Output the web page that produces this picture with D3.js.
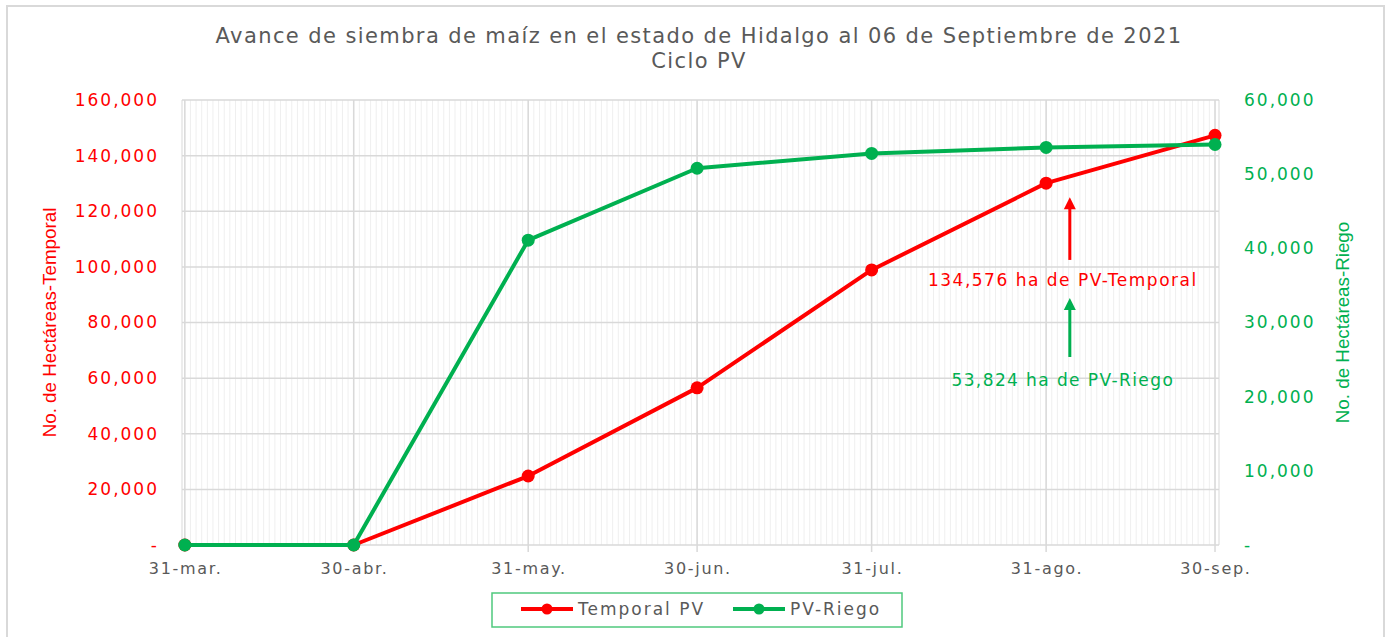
<!DOCTYPE html>
<html lang="es">

<head>
    <meta charset="UTF-8">
    <title>Avance de siembra de maíz</title>
    <script src="https://cdn.jsdelivr.net/npm/d3@7"></script>
    <style>
        body {
            margin: 0;
            background: #fff;
        }

        text {
            font-family: "DejaVu Sans", sans-serif;
        }

        .axis-title {
            font-family: "Liberation Sans Narrow", "Liberation Sans", sans-serif;
            font-size: 18.8px;
        }
    </style>
</head>

<body>
    <svg width="1386" height="637"></svg>

    <script>
        // datos
        const fechas = ["2021-03-31", "2021-04-30", "2021-05-31", "2021-06-30", "2021-07-31", "2021-08-31", "2021-09-30"];
        const etiquetas = ["31-mar.", "30-abr.", "31-may.", "30-jun.", "31-jul.", "31-ago.", "30-sep."];
        const temporal = [0, 0, 24800, 56500, 98900, 130100, 147300];
        const riego = [0, 0, 41100, 50800, 52800, 53600, 54000];
        const ticksTemporal = [0, 20000, 40000, 60000, 80000, 100000, 120000, 140000, 160000];
        const ticksRiego = [0, 10000, 20000, 30000, 40000, 50000, 60000];

        const rojo = "#ff0000";
        const verde = "#00b050";
        const gris = "#595959";

        const width = 1386;
        const height = 637;
        const margin = { top: 100, right: 167, bottom: 92, left: 182 };

        const svg = d3.select("svg");

        // marco exterior
        svg.append("rect")
            .attr("x", 7).attr("y", 6)
            .attr("width", 1377).attr("height", 640)
            .attr("fill", "none")
            .attr("stroke", "#d9d9d9")
            .attr("stroke-width", 2);

        const parse = d3.timeParse("%Y-%m-%d");
        const data = fechas.map((f, i) => ({ fecha: parse(f), etiqueta: etiquetas[i], t: temporal[i], r: riego[i] }));

        const x = d3.scaleTime()
            .domain([new Date(2021, 2, 30, 12), new Date(2021, 8, 30, 17)])
            .range([margin.left, width - margin.right]);

        const yT = d3.scaleLinear()
            .domain([0, 160000])
            .range([height - margin.bottom, margin.top]);

        const yR = d3.scaleLinear()
            .domain([0, 60000])
            .range([height - margin.bottom, margin.top]);

        const fmt = d => d === 0 ? "-" : d3.format(",")(d);

        // rejilla diaria
        const dias = d3.timeDay.range(x.domain()[0], x.domain()[1]);
        svg.append("g")
            .selectAll("line")
            .data(dias)
            .join("line")
            .attr("x1", d => x(d)).attr("x2", d => x(d))
            .attr("y1", yT(160000)).attr("y2", yT(0))
            .attr("stroke", "#efefef")
            .attr("stroke-width", 1);

        // bordes del área
        svg.append("line")
            .attr("x1", x.range()[0]).attr("x2", x.range()[0])
            .attr("y1", yT(160000)).attr("y2", yT(0))
            .attr("stroke", "#d9d9d9");
        svg.append("line")
            .attr("x1", x.range()[1]).attr("x2", x.range()[1])
            .attr("y1", yT(160000)).attr("y2", yT(0))
            .attr("stroke", "#d9d9d9");

        // rejilla horizontal
        svg.append("g")
            .selectAll("line")
            .data(ticksTemporal)
            .join("line")
            .attr("x1", x.range()[0]).attr("x2", x.range()[1])
            .attr("y1", d => yT(d)).attr("y2", d => yT(d))
            .attr("stroke", "#d9d9d9")
            .attr("stroke-width", 1.5);

        // rejilla mensual
        svg.append("g")
            .selectAll("line")
            .data(data)
            .join("line")
            .attr("x1", d => x(d.fecha)).attr("x2", d => x(d.fecha))
            .attr("y1", yT(160000)).attr("y2", yT(0) + 7)
            .attr("stroke", "#d9d9d9")
            .attr("stroke-width", 1.5);

        // eje x
        svg.append("g")
            .selectAll("text")
            .data(data)
            .join("text")
            .attr("x", d => x(d.fecha))
            .attr("dx", 0.85)
            .attr("y", yT(0) + 29)
            .attr("text-anchor", "middle")
            .attr("fill", gris)
            .attr("font-size", 16)
            .attr("letter-spacing", 1.7)
            .text(d => d.etiqueta);

        // eje izquierdo
        const ejeIzq = svg.append("g")
            .attr("transform", `translate(${margin.left - 20},0)`)
            .call(d3.axisLeft(yT).tickValues(ticksTemporal).tickFormat(fmt).tickSize(0));
        ejeIzq.select(".domain").remove();
        ejeIzq.selectAll("text")
            .attr("fill", rojo)
            .attr("font-size", 17)
            .attr("letter-spacing", 2)
            .attr("font-family", "DejaVu Sans, sans-serif");

        // eje derecho
        const ejeDer = svg.append("g")
            .attr("transform", `translate(${width - margin.right + 22},0)`)
            .call(d3.axisRight(yR).tickValues(ticksRiego).tickFormat(fmt).tickSize(0));
        ejeDer.select(".domain").remove();
        ejeDer.selectAll("text")
            .attr("fill", verde)
            .attr("font-size", 17)
            .attr("letter-spacing", 2)
            .attr("font-family", "DejaVu Sans, sans-serif");

        // títulos de ejes
        svg.append("text")
            .attr("class", "axis-title")
            .attr("transform", `translate(56,${(yT(0) + yT(160000)) / 2}) rotate(-90)`)
            .attr("text-anchor", "middle")
            .attr("fill", rojo)
            .text("No. de Hectáreas-Temporal");

        svg.append("text")
            .attr("class", "axis-title")
            .attr("transform", `translate(1349,${(yR(0) + yR(60000)) / 2}) rotate(-90)`)
            .attr("text-anchor", "middle")
            .attr("fill", verde)
            .text("No. de Hectáreas-Riego");

        // título
        const titulo = svg.append("text")
            .attr("text-anchor", "middle")
            .attr("fill", gris)
            .attr("font-size", 21)
            .attr("letter-spacing", 1.4);
        titulo.append("tspan").attr("x", 699).attr("y", 43)
            .text("Avance de siembra de maíz en el estado de Hidalgo al 06 de Septiembre de 2021");
        titulo.append("tspan").attr("x", 699).attr("y", 68)
            .text("Ciclo PV");

        // series
        const series = [
            { key: "t", y: yT, color: rojo },
            { key: "r", y: yR, color: verde }
        ];

        series.forEach(s => {
            const filas = s.key === "t" ? data.slice(1) : data;
            const linea = d3.line()
                .x(d => x(d.fecha))
                .y(d => s.y(d[s.key]));
            svg.append("path")
                .datum(filas)
                .attr("fill", "none")
                .attr("stroke", s.color)
                .attr("stroke-width", 4)
                .attr("stroke-linejoin", "round")
                .attr("d", linea);
            svg.append("g")
                .selectAll("circle")
                .data(data)
                .join("circle")
                .attr("cx", d => x(d.fecha))
                .attr("cy", d => s.y(d[s.key]))
                .attr("r", 6.5)
                .attr("fill", s.color);
        });

        // anotaciones
        const xAnot = x(new Date(2021, 8, 4, 5));
        const flecha = (x0, y0, y1, color) => {
            svg.append("line")
                .attr("x1", x0).attr("x2", x0)
                .attr("y1", y0).attr("y2", y1 + 10)
                .attr("stroke", color)
                .attr("stroke-width", 3);
            svg.append("path")
                .attr("d", `M${x0 - 6},${y1 + 12} L${x0},${y1} L${x0 + 6},${y1 + 12} Z`)
                .attr("fill", color);
        };
        flecha(xAnot, yT(102500), yT(125000), rojo);
        flecha(xAnot, yR(25350), yR(33300), verde);

        svg.append("text")
            .attr("x", xAnot - 7)
            .attr("y", yT(95300) + 6)
            .attr("text-anchor", "middle")
            .attr("fill", rojo)
            .attr("font-size", 17)
            .attr("letter-spacing", 1.5)
            .text("134,576 ha de PV-Temporal");

        svg.append("text")
            .attr("x", xAnot - 7)
            .attr("y", yR(22250) + 6)
            .attr("text-anchor", "middle")
            .attr("fill", verde)
            .attr("font-size", 17)
            .attr("letter-spacing", 1.4)
            .text("53,824 ha de PV-Riego");

        // leyenda
        const ley = svg.append("g");
        ley.append("rect")
            .attr("x", 492).attr("y", 593)
            .attr("width", 410).attr("height", 34)
            .attr("fill", "#fff")
            .attr("stroke", "#4fc97d")
            .attr("stroke-width", 1.5);
        const items = [
            { nombre: "Temporal PV", color: rojo, x0: 521 },
            { nombre: "PV-Riego", color: verde, x0: 733 }
        ];
        items.forEach(it => {
            ley.append("line")
                .attr("x1", it.x0).attr("x2", it.x0 + 52)
                .attr("y1", 609).attr("y2", 609)
                .attr("stroke", it.color)
                .attr("stroke-width", 4);
            ley.append("circle")
                .attr("cx", it.x0 + 26).attr("cy", 609)
                .attr("r", 5.5)
                .attr("fill", it.color);
            ley.append("text")
                .attr("x", it.x0 + 57).attr("y", 615)
                .attr("fill", gris)
                .attr("font-size", 17)
                .attr("letter-spacing", 2)
                .text(it.nombre);
        });
    </script>
</body>

</html>
